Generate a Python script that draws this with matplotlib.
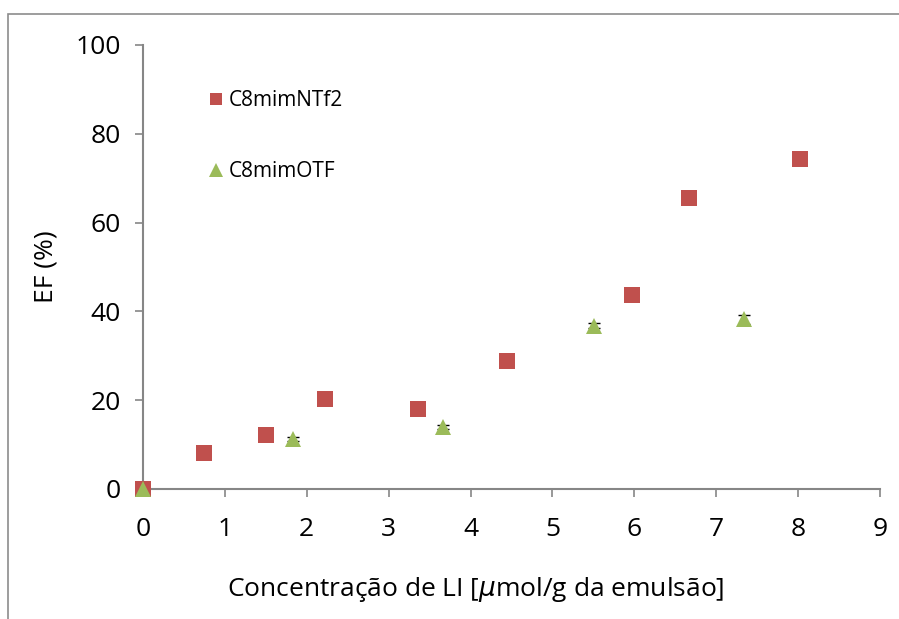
import matplotlib
matplotlib.use("Agg")
import matplotlib.pyplot as plt
from matplotlib.patches import Rectangle

# EF (%) vs ionic liquid concentration for the two ionic liquids
ntf2_x = [0.0, 0.745, 1.50, 2.22, 3.36, 4.44, 5.97, 6.67, 8.02]
ntf2_y = [0.0, 8.1, 12.2, 20.3, 18.0, 28.8, 43.7, 65.5, 74.3]

otf_x = [0.0, 1.83, 3.66, 5.51, 7.34]
otf_y = [0.0, 11.3, 14.0, 36.8, 38.2]
otf_err = [0.0, 0.4, 0.5, 0.6, 1.0]

x_ticks = list(range(0, 10))
y_ticks = [0, 20, 40, 60, 80, 100]

RED = "#C0504D"
GREEN = "#9BBB59"
AXIS = "#868686"

plt.rcParams["font.family"] = ["Open Sans", "DejaVu Sans"]

fig = plt.figure(figsize=(8.99, 6.19), dpi=100)
ax = fig.add_axes([143 / 899, 1 - 489 / 619, 737 / 899, 444 / 619])

# thin chart frame (left and top edges visible)
fig.patches.append(Rectangle((8 / 899, -0.1), 1.2, 1 - 14 / 619 + 0.1,
                             transform=fig.transFigure, fill=False,
                             edgecolor="#8c8c8c", linewidth=1.2))

ax.errorbar(otf_x, otf_y, yerr=otf_err, fmt="none", ecolor="black",
            elinewidth=1, capsize=4, capthick=1, zorder=2)
ax.plot(ntf2_x, ntf2_y, "s", color=RED, markersize=11,
        markeredgewidth=0, label="C8mimNTf2", clip_on=False, zorder=3)
ax.plot(otf_x, otf_y, "^", color=GREEN, markersize=12,
        markeredgewidth=0, label="C8mimOTF", clip_on=False, zorder=4)

ax.set_xlim(0, 9)
ax.set_ylim(0, 100)
ax.set_xticks(x_ticks)
ax.set_yticks(y_ticks)
ax.tick_params(axis="both", direction="out", length=6, width=1.2,
               color=AXIS, labelsize=19)
ax.tick_params(axis="x", pad=14)
ax.tick_params(axis="y", pad=10)

for side in ("top", "right"):
    ax.spines[side].set_visible(False)
for side in ("left", "bottom"):
    ax.spines[side].set_color(AXIS)
    ax.spines[side].set_linewidth(1.5)

ax.set_xlabel("Concentração de LI [$\\mu$mol/g da emulsão]", fontsize=19,
              labelpad=24, x=0.452)
ax.set_ylabel("EF (%)", fontsize=19, labelpad=12)

ax.legend(loc="upper left", bbox_to_anchor=(0.057, 0.94), frameon=False,
          fontsize=15, labelspacing=2.4, handletextpad=0.0,
          handlelength=1.2, markerscale=0.85)

fig.savefig("out.png", dpi=100)
